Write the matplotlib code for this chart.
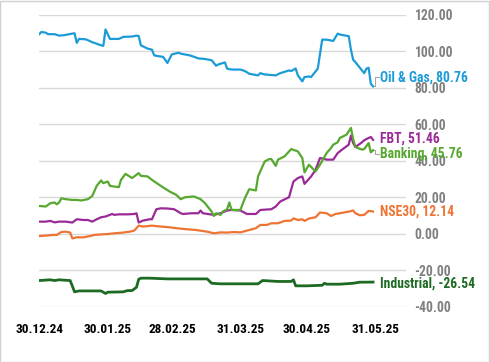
import matplotlib
matplotlib.use("Agg")
import matplotlib.pyplot as plt
import matplotlib.dates as mdates
import pandas as pd
from matplotlib import font_manager
from matplotlib.font_manager import FontProperties

fm = font_manager.fontManager
cands = []
for f in fm.ttflist:
    key = (f.name + " " + f.fname).lower()
    if any(k in key for k in ["narrow", "condensed", "cond"]):
        cands.append(f)

def pick(bold=True):
    pref = ["Roboto Condensed", "Liberation Sans Narrow", "Open Sans Condensed", "DejaVu Sans"]
    for p in pref:
        for f in cands:
            if f.name == p:
                w = f.weight if isinstance(f.weight, int) else (700 if "bold" in str(f.weight).lower() else 400)
                if (w >= 600) == bold and "oblique" not in f.fname.lower() and "italic" not in f.fname.lower():
                    return FontProperties(fname=f.fname)
    return FontProperties(family="DejaVu Sans", weight="bold" if bold else "normal")

FP = pick(True)

# ---------------- data ----------------
oil_dates = ["2024-12-30", "2024-12-31", "2025-01-02", "2025-01-03", "2025-01-06", "2025-01-08",
             "2025-01-10", "2025-01-14", "2025-01-15", "2025-01-16", "2025-01-17", "2025-01-20",
             "2025-01-21", "2025-01-23", "2025-01-27", "2025-01-28", "2025-01-29", "2025-01-31",
             "2025-02-04", "2025-02-06", "2025-02-10", "2025-02-12", "2025-02-13", "2025-02-14",
             "2025-02-17", "2025-02-19", "2025-02-20", "2025-02-22", "2025-02-24", "2025-02-26",
             "2025-02-28", "2025-03-03", "2025-03-04", "2025-03-08", "2025-03-10", "2025-03-12",
             "2025-03-15", "2025-03-18", "2025-03-20", "2025-03-21", "2025-03-24", "2025-03-25",
             "2025-03-27", "2025-03-31", "2025-04-02", "2025-04-04", "2025-04-08", "2025-04-09",
             "2025-04-11", "2025-04-16", "2025-04-18", "2025-04-22", "2025-04-23", "2025-04-25",
             "2025-04-26", "2025-04-28", "2025-04-29", "2025-05-01", "2025-05-02", "2025-05-05",
             "2025-05-07", "2025-05-09", "2025-05-12", "2025-05-14", "2025-05-15", "2025-05-19",
             "2025-05-20", "2025-05-21", "2025-05-22", "2025-05-26", "2025-05-27", "2025-05-28",
             "2025-05-29", "2025-05-30"]
oil_values = [109.4, 110.6, 110.2, 109.4, 109.4, 108.6, 108.8, 109.7, 109.9, 104.6, 106.8, 106.6,
              106.1, 105.0, 103.3, 103.0, 112.0, 106.8, 106.8, 107.9, 108.1, 108.6, 108.4, 103.3,
              101.5, 100.9, 97.8, 97.3, 97.0, 93.6, 98.3, 99.2, 98.7, 97.8, 97.0, 96.1,
              95.8, 95.1, 92.1, 92.8, 93.9, 90.5, 90.0, 90.0, 89.2, 87.7, 86.8, 88.0,
              87.3, 86.8, 88.0, 89.5, 89.2, 90.6, 86.8, 83.5, 85.9, 86.2, 85.9, 90.5,
              106.4, 106.4, 105.7, 109.7, 109.2, 108.3, 100.9, 95.4, 94.1, 88.0, 90.5, 91.0,
              82.2, 80.76]

bank_dates = ["2024-12-30", "2025-01-02", "2025-01-03", "2025-01-04", "2025-01-06", "2025-01-07",
              "2025-01-08", "2025-01-09", "2025-01-11", "2025-01-14", "2025-01-16", "2025-01-18",
              "2025-01-21", "2025-01-23", "2025-01-25", "2025-01-27", "2025-01-28", "2025-01-30",
              "2025-01-31", "2025-02-04", "2025-02-05", "2025-02-07", "2025-02-10", "2025-02-13",
              "2025-02-14", "2025-02-17", "2025-02-19", "2025-02-23", "2025-02-27", "2025-03-02",
              "2025-03-04", "2025-03-06", "2025-03-10", "2025-03-13", "2025-03-15", "2025-03-18",
              "2025-03-19", "2025-03-20", "2025-03-22", "2025-03-23", "2025-03-25", "2025-03-26",
              "2025-03-27", "2025-03-31", "2025-04-02", "2025-04-04", "2025-04-07", "2025-04-08",
              "2025-04-11", "2025-04-13", "2025-04-14", "2025-04-16", "2025-04-17", "2025-04-20",
              "2025-04-22", "2025-04-23", "2025-04-26", "2025-04-28", "2025-04-29", "2025-05-01",
              "2025-05-04", "2025-05-06", "2025-05-09", "2025-05-11", "2025-05-12", "2025-05-14",
              "2025-05-15", "2025-05-18", "2025-05-20", "2025-05-21", "2025-05-22", "2025-05-25",
              "2025-05-26", "2025-05-28", "2025-05-29", "2025-05-30"]
bank_values = [15.2, 14.9, 15.8, 16.7, 17.1, 16.1, 17.1, 19.4, 18.9, 18.5, 18.5, 18.2,
               18.9, 20.7, 26.2, 29.2, 27.7, 28.6, 26.2, 25.5, 29.5, 32.8, 30.5, 33.2,
               31.7, 31.4, 29.5, 26.2, 23.1, 21.3, 18.9, 20.0, 20.4, 18.9, 16.7, 12.1,
               9.7, 11.2, 10.3, 12.1, 13.4, 17.1, 13.0, 13.0, 19.4, 24.4, 23.7, 31.4,
               39.6, 40.9, 40.9, 37.2, 40.6, 42.4, 45.1, 46.4, 45.1, 41.5, 33.6, 37.8,
               34.1, 37.8, 44.2, 47.0, 48.8, 50.1, 52.5, 54.3, 58.0, 51.9, 47.5, 46.1,
               46.4, 49.7, 44.6, 45.76]

fbt_dates = ["2024-12-30", "2025-01-02", "2025-01-04", "2025-01-06", "2025-01-08", "2025-01-11",
             "2025-01-14", "2025-01-16", "2025-01-19", "2025-01-21", "2025-01-23", "2025-01-25",
             "2025-01-27", "2025-01-29", "2025-02-01", "2025-02-02", "2025-02-04", "2025-02-08",
             "2025-02-11", "2025-02-12", "2025-02-13", "2025-02-15", "2025-02-18", "2025-02-19",
             "2025-02-21", "2025-02-23", "2025-02-26", "2025-03-01", "2025-03-02", "2025-03-04",
             "2025-03-05", "2025-03-09", "2025-03-12", "2025-03-13", "2025-03-14", "2025-03-19",
             "2025-03-22", "2025-03-25", "2025-03-27", "2025-03-31", "2025-04-03", "2025-04-07",
             "2025-04-09", "2025-04-14", "2025-04-16", "2025-04-18", "2025-04-22", "2025-04-24",
             "2025-04-26", "2025-04-28", "2025-04-29", "2025-05-02", "2025-05-04", "2025-05-06",
             "2025-05-09", "2025-05-12", "2025-05-14", "2025-05-16", "2025-05-19", "2025-05-20",
             "2025-05-21", "2025-05-22", "2025-05-25", "2025-05-26", "2025-05-28", "2025-05-29",
             "2025-05-30"]
fbt_values = [6.6, 6.6, 7.0, 6.2, 6.6, 6.6, 6.1, 7.9, 7.5, 7.5, 6.6, 7.9,
              9.0, 9.4, 10.8, 10.3, 10.6, 10.6, 10.8, 11.2, 6.1, 7.2, 7.9, 7.9,
              13.4, 13.9, 13.8, 13.4, 12.7, 11.2, 10.8, 11.2, 11.2, 12.7, 11.2, 10.3,
              11.2, 12.7, 13.0, 12.7, 10.8, 10.8, 13.0, 13.4, 14.9, 17.6, 20.0, 28.6,
              30.5, 31.4, 27.3, 31.4, 35.0, 41.5, 40.6, 40.6, 44.2, 46.1, 48.8, 53.8,
              49.7, 47.5, 50.1, 51.2, 52.5, 53.0, 51.46]

nse_dates = ["2024-12-30", "2025-01-02", "2025-01-05", "2025-01-07", "2025-01-09", "2025-01-11",
             "2025-01-13", "2025-01-14", "2025-01-16", "2025-01-19", "2025-01-22", "2025-01-24",
             "2025-01-27", "2025-01-30", "2025-02-02", "2025-02-06", "2025-02-09", "2025-02-11",
             "2025-02-13", "2025-02-15", "2025-02-19", "2025-02-23", "2025-02-27", "2025-03-02",
             "2025-03-07", "2025-03-11", "2025-03-16", "2025-03-19", "2025-03-22", "2025-03-25",
             "2025-03-28", "2025-03-31", "2025-04-03", "2025-04-07", "2025-04-09", "2025-04-12",
             "2025-04-14", "2025-04-17", "2025-04-20", "2025-04-23", "2025-04-24", "2025-04-26",
             "2025-04-28", "2025-04-29", "2025-05-01", "2025-05-04", "2025-05-06", "2025-05-09",
             "2025-05-11", "2025-05-13", "2025-05-15", "2025-05-19", "2025-05-21", "2025-05-22",
             "2025-05-24", "2025-05-26", "2025-05-28", "2025-05-30"]
nse_values = [-1.3, -1.1, -0.7, -0.7, 0.9, 1.1, 0.6, -2.6, -2.0, -2.0, -1.3, -0.7,
              -0.4, -0.2, 0.2, 0.6, 1.1, 1.7, 4.4, 3.9, 4.4, 3.9, 3.5, 3.0,
              2.4, 2.0, 1.1, 0.2, 0.7, 0.6, 0.9, 0.7, 1.7, 3.0, 4.8, 4.8,
              5.7, 5.7, 7.0, 7.2, 8.4, 7.5, 7.9, 7.0, 8.3, 9.0, 11.6, 11.2,
              9.7, 10.8, 11.2, 12.1, 12.7, 11.2, 10.1, 10.3, 12.5, 12.14]

ind_dates = ["2024-12-30", "2025-01-04", "2025-01-06", "2025-01-08", "2025-01-13", "2025-01-15",
             "2025-01-17", "2025-01-22", "2025-01-27", "2025-01-29", "2025-01-30", "2025-02-06",
             "2025-02-08", "2025-02-10", "2025-02-12", "2025-02-13", "2025-02-14", "2025-02-18",
             "2025-02-26", "2025-03-05", "2025-03-13", "2025-03-16", "2025-03-18", "2025-03-22",
             "2025-03-28", "2025-04-08", "2025-04-10", "2025-04-17", "2025-04-23", "2025-04-24",
             "2025-04-25", "2025-04-30", "2025-05-07", "2025-05-08", "2025-05-09", "2025-05-15",
             "2025-05-21", "2025-05-24", "2025-05-26", "2025-05-30"]
ind_values = [-25.7, -25.3, -25.7, -25.3, -25.7, -31.9, -31.4, -31.4, -31.4, -32.8, -32.1, -31.9,
              -31.2, -31.2, -29.4, -25.0, -24.4, -24.4, -24.8, -24.8, -24.8, -24.8, -27.2, -27.5,
              -27.5, -27.5, -25.7, -26.2, -26.2, -25.3, -28.6, -28.6, -28.3, -27.2, -27.7, -27.7,
              -27.2, -26.6, -26.6, -26.54]

series_names = ["Oil & Gas", "FBT", "Banking", "NSE30", "Industrial"]
series_dates = [oil_dates, fbt_dates, bank_dates, nse_dates, ind_dates]
series_values = [oil_values, fbt_values, bank_values, nse_values, ind_values]
series_colors = ["#1b9bd7", "#9a2a97", "#56a82e", "#ee7434", "#1d6b22"]
label_y = [85.7, 52.3, 43.6, 12.2, -27.3]   # label anchor heights
has_leader = [True, False, True, False, False]
y_ticks = [120, 100, 80, 60, 40, 20, 0, -20, -40]
x_ticks = ["2024-12-30", "2025-01-30", "2025-02-28", "2025-03-31", "2025-04-30", "2025-05-31"]

# ---------------- plot ----------------
fig = plt.figure(figsize=(4.9, 3.62), dpi=100)
ax = fig.add_axes([0.080, 0.153, 0.749, 0.806])

for name, d, v, c in zip(series_names, series_dates, series_values, series_colors):
    lw = 2.0 if name == "Industrial" else 1.6
    ax.plot(pd.to_datetime(d), v, color=c, lw=lw, solid_joinstyle="round", zorder=3)

ax.set_xlim(pd.Timestamp("2024-12-30"), pd.Timestamp("2025-06-14"))
ax.set_ylim(-40, 120)
ax.set_yticks(y_ticks)
ax.set_yticklabels([f"{t:.2f}" for t in y_ticks])
ax.yaxis.tick_right()
ax.tick_params(axis="y", length=0, pad=6, labelcolor="#7f7f7f")
ax.set_xticks(pd.to_datetime(x_ticks))
ax.xaxis.set_major_formatter(mdates.DateFormatter("%d.%m.%y"))
ax.tick_params(axis="x", length=0, pad=12, labelcolor="black")
for lab in ax.get_yticklabels():
    lab.set_fontproperties(FP)
    lab.set_fontsize(9.8)
for lab in ax.get_xticklabels():
    lab.set_fontproperties(FP)
    lab.set_fontsize(9.5)
ax.grid(axis="y", color="#d9d9d9", lw=1.0)
ax.set_axisbelow(True)
for s in ax.spines.values():
    s.set_visible(False)

# end labels
label_x = pd.Timestamp("2025-06-02")
for name, d, v, c, ly, ld in zip(series_names, series_dates, series_values, series_colors,
                                 label_y, has_leader):
    x_end = pd.Timestamp(d[-1])
    ax.text(label_x, ly, f"{name}, {v[-1]:.2f}", color=c, fontproperties=FP, fontsize=9.8,
            va="center", ha="left", zorder=4, clip_on=False)
    if ld:
        xm = x_end + pd.Timedelta(days=1)
        ax.plot([x_end, xm, xm, label_x - pd.Timedelta(days=0.3)],
                [v[-1], v[-1], ly, ly], color="#a6a6a6", lw=0.8, zorder=2)

fig.patches.append(plt.Rectangle((0.001, 0.001), 0.997, 0.997, transform=fig.transFigure,
                                 fill=False, edgecolor="#d0d0d0", lw=1.0))
fig.savefig("out.png", dpi=100)
